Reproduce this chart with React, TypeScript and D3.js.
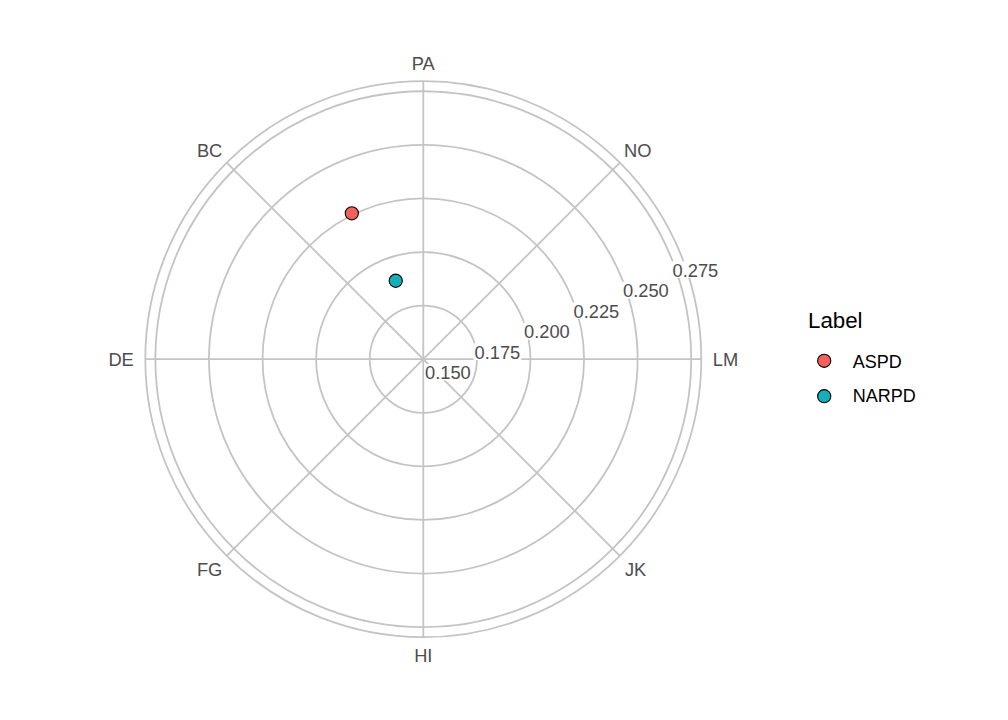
import { useMemo } from 'react';
import * as d3 from 'd3';

// theta categories, counter-clockwise from the top
const categories = ['PA', 'BC', 'DE', 'FG', 'HI', 'JK', 'LM', 'NO'];
const rTicks = [0.15, 0.175, 0.2, 0.225, 0.25, 0.275];
const seriesLabels = ['ASPD', 'NARPD'];
const seriesTheta = [0.58, 0.43];
const seriesValues = [0.2258, 0.1888];
const seriesColors = ['#F3615D', '#15B0B5'];

const W = 1008;
const H = 720;
const CX = 423.3;
const CY = 359.2;
const R_OUTER = 278;
const R_LIMIT = 0.2797;
const GRID = '#C4C4C4';
const FONT = '"Liberation Sans", Arial, Helvetica, sans-serif';
const AXIS_FS = 18.3;

function textWidth(txt: string, fs: number) {
  const ctx = document.createElement('canvas').getContext('2d');
  if (!ctx) return txt.length * fs * 0.55;
  ctx.font = `${fs}px ${FONT}`;
  return ctx.measureText(txt).width;
}

export default function App() {
  const rScale = useMemo(() => d3.scaleLinear().domain([0.15, R_LIMIT]).range([0, R_OUTER]), []);
  // angle measured clockwise from north, categories run counter-clockwise
  const aScale = useMemo(() => d3.scaleLinear().domain([0, categories.length]).range([0, -2 * Math.PI]), []);

  const pos = (a: number, r: number) => [CX + r * Math.sin(a), CY - r * Math.cos(a)];

  const labelAngle = (67.5 * Math.PI) / 180;
  const capH = AXIS_FS * 0.75;

  return (
    <svg width={W} height={H} style={{ position: 'absolute', left: 0, top: 0, background: '#fff' }} fontFamily={FONT}>
      {/* circular grid */}
      {rTicks.slice(1).map(t => (
        <circle key={t} cx={CX} cy={CY} r={rScale(t)} fill="none" stroke={GRID} strokeWidth={1.8} />
      ))}
      <circle cx={CX} cy={CY} r={R_OUTER} fill="none" stroke={GRID} strokeWidth={1.8} />

      {/* spokes */}
      {categories.map((c, i) => {
        const [x, y] = pos(aScale(i), R_OUTER);
        return <line key={c} x1={CX} y1={CY} x2={x} y2={y} stroke={GRID} strokeWidth={1.8} />;
      })}

      {/* theta labels */}
      {categories.map((c, i) => {
        const a = aScale(i);
        const [ax, ay] = pos(a, 289.5);
        const hj = 0.5 - Math.sin(a) / 2;
        const vj = 0.5 - Math.cos(a) / 2;
        const w = textWidth(c, AXIS_FS);
        return (
          <text key={c} x={ax - hj * w} y={ay + vj * capH} fontSize={AXIS_FS} fill="#4D4D4D">
            {c}
          </text>
        );
      })}

      {/* radial labels */}
      {rTicks.map(t => {
        const [lx, ly] = pos(labelAngle, rScale(t));
        const txt = d3.format('.3f')(t);
        const w = textWidth(txt, AXIS_FS);
        const x = lx + 1.7;
        const cy = ly + 13;
        return (
          <g key={t}>
            <rect x={x - 1} y={cy - capH / 2 - 1.5} width={w + 2} height={capH + 3} fill="#fff" />
            <text x={x} y={cy + capH / 2} fontSize={AXIS_FS} fill="#4D4D4D">
              {txt}
            </text>
          </g>
        );
      })}

      {/* points */}
      {seriesLabels.map((s, i) => {
        const [x, y] = pos(aScale(seriesTheta[i]), rScale(seriesValues[i]));
        return <circle key={s} cx={x} cy={y} r={6.6} fill={seriesColors[i]} stroke="#000" strokeWidth={1.1} />;
      })}

      {/* legend */}
      <text x={808} y={328.3} fontSize={22.3} fill="#000">Label</text>
      {seriesLabels.map((s, i) => (
        <g key={s}>
          <circle cx={824.2} cy={360.8 + i * 35.4} r={6.6} fill={seriesColors[i]} stroke="#000" strokeWidth={1.1} />
          <text x={852.7} y={367.7 + i * 34.5} fontSize={18} fill="#000">{s}</text>
        </g>
      ))}
    </svg>
  );
}
